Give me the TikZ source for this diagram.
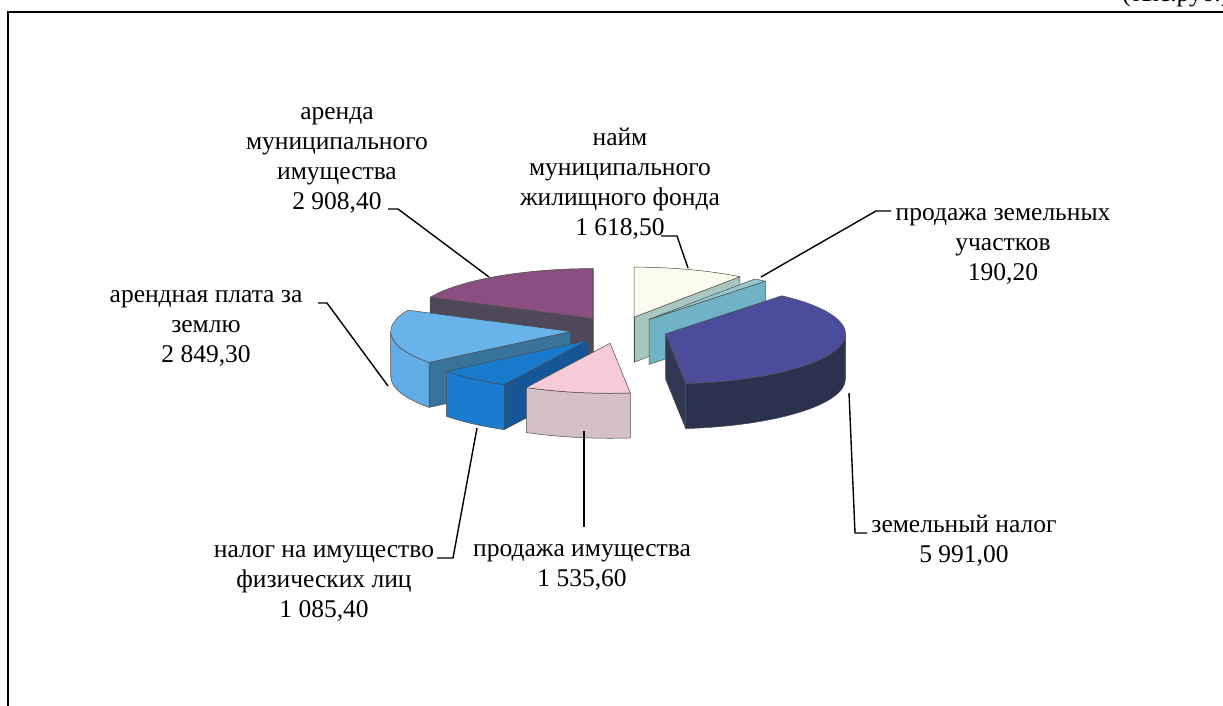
\documentclass[tikz,border=0pt]{standalone}
\usepackage{fontspec}
\setmainfont{Liberation Serif}
\usetikzlibrary{calc}
\definecolor{wtop}{RGB}{252,252,238}
\definecolor{wface}{RGB}{166,200,192}
\definecolor{ptop}{RGB}{139,78,128}
\definecolor{pface}{RGB}{78,72,88}
\definecolor{ttop}{RGB}{150,200,205}
\definecolor{tface}{RGB}{112,178,198}
\definecolor{lbtop}{RGB}{104,180,234}
\definecolor{lbside}{RGB}{96,172,230}
\definecolor{lbface}{RGB}{55,115,155}
\definecolor{dbtop}{RGB}{76,76,156}
\definecolor{dbside}{RGB}{42,50,78}
\definecolor{dbface}{RGB}{48,56,84}
\definecolor{btop}{RGB}{24,122,204}
\definecolor{bside}{RGB}{26,124,208}
\definecolor{bface}{RGB}{22,86,150}
\definecolor{pktop}{RGB}{246,202,214}
\definecolor{pkside}{RGB}{214,192,200}
\newcommand{\setV}[3]{\pgfmathsetmacro\mm{(#2+#3)/2}%
  \coordinate (#1) at ({619+0.27*180*cos(\mm)},{376+0.27*50*sin(\mm)});}
\newcommand{\slicetop}[4]{\filldraw[edge, fill=#4] (#1) -- ($(#1)+({180*cos(#2)},{50*sin(#2)})$) arc[start angle=#2, end angle=#3, x radius=180, y radius=50] -- cycle;}
\newcommand{\sliceside}[4]{\filldraw[edge, fill=#4] ($(#1)+({180*cos(#2)},{50*sin(#2)})$) arc[start angle=#2, end angle=#3, x radius=180, y radius=50] -- ++(0,-45) arc[start angle=#3, end angle=#2, x radius=180, y radius=50] -- cycle;}
\newcommand{\sliceface}[3]{\filldraw[edge, fill=#3] (#1) -- ($(#1)+({180*cos(#2)},{50*sin(#2)})$) -- ++(0,-45) -- ($(#1)+(0,-45)$) -- cycle;}
\begin{document}
\begin{tikzpicture}[x=1pt,y=1pt,
  lbl/.style={align=center, inner sep=0pt, font=\fontsize{25.5}{30}\selectfont, anchor=base},
  lead/.style={draw=black, line width=1.4pt},
  edge/.style={draw=black!70, line width=0.5pt, line join=round}]
\useasboundingbox (0,0) rectangle (1223,706);
% frame
\draw[line width=1.2pt] (8,0) -- (8,694) -- (1223,694);
\node[anchor=base west, inner sep=0pt, font=\fontsize{25.5}{30}\selectfont] (unit) at (1122,704) {(тыс.руб.)};
% slices: white (najm)
\setV{Vw}{53.99}{90}
\sliceface{Vw}{53.99}{wface}
\sliceface{Vw}{90}{wface}
\slicetop{Vw}{53.99}{90}{wtop}
% purple
\setV{Vp}{90}{154.73}
\sliceface{Vp}{154.73}{pface}
\sliceface{Vp}{90}{pface}
\slicetop{Vp}{90}{154.73}{ptop}
% teal
\setV{Vt}{49.76}{53.99}
\sliceface{Vt}{49.76}{tface}
\slicetop{Vt}{49.76}{53.99}{ttop}
% light blue
\setV{Vl}{-205.27}{-141.87}
\sliceface{Vl}{-141.87}{lbface}
\sliceside{Vl}{-180}{-141.87}{lbside}
\slicetop{Vl}{-205.27}{-141.87}{lbtop}
% dark blue
\setV{Vd}{-83.55}{49.76}
\sliceface{Vd}{-83.55}{dbface}
\sliceside{Vd}{-83.55}{0}{dbside}
\slicetop{Vd}{-83.55}{49.76}{dbtop}
% blue
\setV{Vb}{-141.87}{-117.72}
\sliceface{Vb}{-117.72}{bface}
\sliceside{Vb}{-141.87}{-117.72}{bside}
\slicetop{Vb}{-141.87}{-117.72}{btop}
% pink
\setV{Vk}{-117.72}{-83.55}
\sliceside{Vk}{-117.72}{-83.55}{pkside}
\slicetop{Vk}{-117.72}{-83.55}{pktop}
% labels (anchor = baseline of the last line)
\node[lbl] (l1) at (337,496) {аренда\\муниципального\\имущества\\2 908,40};
\node[lbl] (l2) at (620,470) {найм\\муниципального\\жилищного фонда\\1 618,50};
\node[lbl] (l3) at (1003,425) {продажа земельных\\участков\\190,20};
\node[lbl] (l4) at (206,343) {арендная плата за\\землю\\2 849,30};
\node[lbl] (l5) at (324,88) {налог на имущество\\физических лиц\\1 085,40};
\node[lbl] (l6) at (582,119) {продажа имущества\\1 535,60};
\node[lbl] (l7) at (964,143) {земельный налог\\5 991,00};
% leader coordinates
\coordinate (a1) at (388,497); \coordinate (b1) at (398,497); \coordinate (c1) at (489,429);
\coordinate (a2) at (661,470); \coordinate (b2) at (677,470); \coordinate (c2) at (688,438);
\coordinate (a3) at (891,495); \coordinate (b3) at (876,495); \coordinate (c3) at (761,429);
\coordinate (a4) at (318,403); \coordinate (b4) at (327,403); \coordinate (c4) at (388,320);
\coordinate (a5) at (437,148); \coordinate (b5) at (453,148); \coordinate (c5) at (477,278);
\coordinate (a6) at (584,179); \coordinate (c6) at (584,275);
\coordinate (a7) at (867,173); \coordinate (b7) at (855,173); \coordinate (c7) at (849,313);
\draw[lead] (a1) -- (b1) -- (c1);
\draw[lead] (a2) -- (b2) -- (c2);
\draw[lead] (a3) -- (b3) -- (c3);
\draw[lead] (a4) -- (b4) -- (c4);
\draw[lead] (a5) -- (b5) -- (c5);
\draw[lead] (a6) -- (c6);
\draw[lead] (a7) -- (b7) -- (c7);
\end{tikzpicture}
\end{document}
